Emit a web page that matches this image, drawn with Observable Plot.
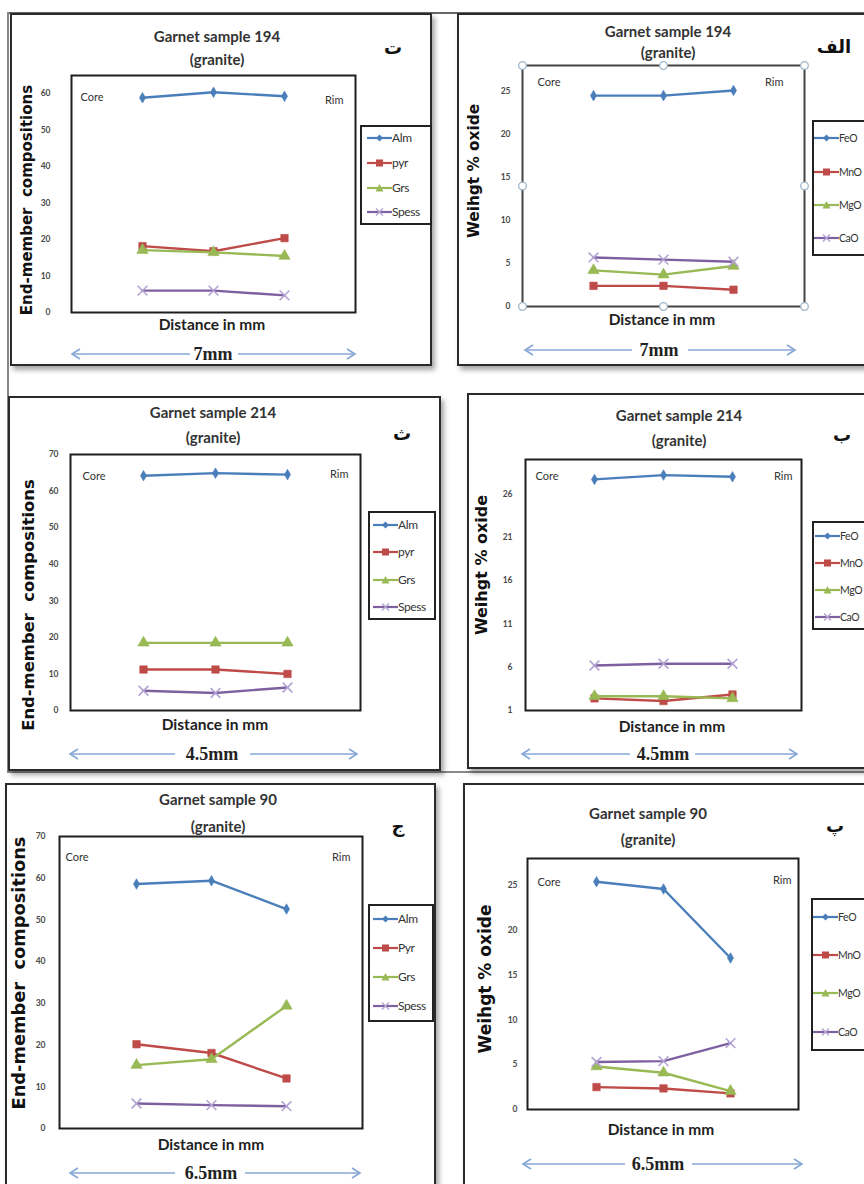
<!DOCTYPE html>
<html><head><meta charset="utf-8">
<script src="https://cdn.jsdelivr.net/npm/d3@7"></script>
<script src="https://cdn.jsdelivr.net/npm/@observablehq/plot@0.6"></script>
<style>
body{margin:0;background:#fff;}
#fig{position:relative;width:864px;height:1184px;overflow:hidden;background:#fff;font-family:Lato,"Open Sans",sans-serif;}
.box{position:absolute;border:2px solid #2b2b2b;box-shadow:3px 4px 5px rgba(0,0,0,0.35);background:#fff;box-sizing:border-box;}
.lg{position:absolute;border:2px solid #222;background:#fff;box-sizing:border-box;}
.t{position:absolute;transform:translate(-50%,-50%);white-space:pre;line-height:1;}
svg.plot{position:absolute;overflow:visible;}
</style></head><body><div id="fig"></div>
<script>
// ---------- data ----------
const points = [1, 2, 3];
const compNames194 = ["Alm", "pyr", "Grs", "Spess"];
const compNames214 = ["Alm", "pyr", "Grs", "Spess"];
const compNames90 = ["Alm", "Pyr", "Grs", "Spess"];
const oxideNames = ["FeO", "MnO", "MgO", "CaO"];

// sample 194
const s194_Alm = [58.9, 60.4, 59.3];
const s194_Pyr = [18.2, 16.8, 20.4];
const s194_Grs = [17.1, 16.5, 15.5];
const s194_Spess = [6.0, 6.0, 4.7];
const s194_FeO = [24.5, 24.5, 25.1];
const s194_MnO = [2.4, 2.4, 1.95];
const s194_MgO = [4.2, 3.7, 4.7];
const s194_CaO = [5.7, 5.45, 5.2];
// sample 214
const s214_Alm = [64.2, 64.9, 64.5];
const s214_Pyr = [11.2, 11.2, 10.0];
const s214_Grs = [18.5, 18.5, 18.5];
const s214_Spess = [5.4, 4.8, 6.3];
const s214_FeO = [27.7, 28.2, 28.0];
const s214_MnO = [2.4, 2.1, 2.85];
const s214_MgO = [2.65, 2.65, 2.4];
const s214_CaO = [6.2, 6.4, 6.4];
// sample 90
const s90_Alm = [58.6, 59.4, 52.6];
const s90_Pyr = [20.2, 18.1, 12.0];
const s90_Grs = [15.2, 16.6, 29.4];
const s90_Spess = [6.0, 5.6, 5.35];
const s90_FeO = [25.4, 24.6, 16.9];
const s90_MnO = [2.5, 2.35, 1.8];
const s90_MgO = [4.8, 4.1, 2.05];
const s90_CaO = [5.3, 5.4, 7.4];

// axes
const yDomainComp194 = [0, 65];
const yTicksComp194 = [0, 10, 20, 30, 40, 50, 60];
const yDomainComp = [0, 70];
const yTicksComp = [0, 10, 20, 30, 40, 50, 60, 70];
const yDomainOx = [0, 28];
const yTicksOx = [0, 5, 10, 15, 20, 25];
const yDomainOx214 = [1, 30];
const yTicksOx214 = [1, 6, 11, 16, 21, 26];

const titles = ["Garnet sample 194", "Garnet sample 194", "Garnet sample 214", "Garnet sample 214", "Garnet sample 90", "Garnet sample 90"];
const subtitle = "(granite)";
const panelLetters = ["ت", "الف", "ث", "ب", "ج", "پ"];
const compLabel = "End-member  compositions";
const oxideLabel = "Weihgt % oxide";
const xLabel = "Distance in mm";
const lengths = ["7mm", "7mm", "4.5mm", "4.5mm", "6.5mm", "6.5mm"];

// ---------- styles ----------
const seriesColors = ["#4a7ebb", "#be4b48", "#98b954", "#7d60a0"];
const markerColors = ["#4a7ebb", "#be4b48", "#98b954", "#b3a3d3"];
const markerSymbols = ["diamond", "square", "triangle", "times"];
const markerR = [3.2, 4.2, 4.2, 4.5];

// ---------- layout ----------
const panels = [
  {names: compNames194, series: [s194_Alm, s194_Pyr, s194_Grs, s194_Spess], yDomain: yDomainComp194, ticks: yTicksComp194, ylabel: compLabel,
   box: [10, 13, 422, 353], frame: [71, 75, 284, 237], tickPad: 21, core: [9, 18], rim: [-12, 21],
   title: [217, 36, 59], letter: [393, 48], ylab: [27, 200, 15], xlab: [212, 325],
   legend: {box: [360, 125, 72, 100], rows: [138, 163, 188, 212], lx: 367, fs: 12},
   arrow: [72, 355, 354, 190, 238, 213]},
  {names: oxideNames, series: [s194_FeO, s194_MnO, s194_MgO, s194_CaO], yDomain: yDomainOx, ticks: yTicksOx, ylabel: oxideLabel,
   box: [457, 13, 420, 353], frame: [522, 65, 282, 241], tickPad: 12, core: [15, 13], rim: [-21, 13], handles: true,
   title: [668, 31, 52], letter: [834, 47], ylab: [475, 171, 15.3], xlab: [662, 320],
   legend: {box: [812, 120, 80, 136], rows: [138, 172, 205, 238], lx: 814, fs: 10.5},
   arrow: [525, 795, 350, 632, 688, 659]},
  {names: compNames214, series: [s214_Alm, s214_Pyr, s214_Grs, s214_Spess], yDomain: yDomainComp, ticks: yTicksComp, ylabel: compLabel,
   box: [8, 396, 433, 375], frame: [70, 454, 290, 256], tickPad: 12, core: [12, 18], rim: [-12, 16],
   title: [213, 412, 437], letter: [402, 434], ylab: [29, 605, 16.4], xlab: [215, 725],
   legend: {box: [368, 511, 68, 109], rows: [525, 552, 580, 607], lx: 373, fs: 12},
   arrow: [70, 357, 754, 175, 250, 212]},
  {names: oxideNames, series: [s214_FeO, s214_MnO, s214_MgO, s214_CaO], yDomain: yDomainOx214, ticks: yTicksOx214, ylabel: oxideLabel,
   box: [467, 393, 410, 376], frame: [525, 459, 276, 251], tickPad: 13, core: [10, 13], rim: [-9, 13],
   title: [679, 415, 440], letter: [842, 435], ylab: [482, 565, 16], xlab: [672, 727],
   legend: {box: [812, 521, 80, 109], rows: [536, 563, 590, 617], lx: 815, fs: 10.5},
   arrow: [522, 797, 754, 630, 695, 663]},
  {names: compNames90, series: [s90_Alm, s90_Pyr, s90_Grs, s90_Spess], yDomain: yDomainComp, ticks: yTicksComp, ylabel: compLabel,
   box: [5, 783, 431, 420], frame: [59, 836, 303, 292], tickPad: 14, core: [6, 17], rim: [-12, 17],
   title: [218, 799, 826], letter: [398, 826], ylab: [19, 973, 17.8], xlab: [211, 1145],
   legend: {box: [368, 904, 66, 118], rows: [919, 948, 977, 1006], lx: 373, fs: 12},
   arrow: [70, 360, 1173, 175, 245, 211]},
  {names: oxideNames, series: [s90_FeO, s90_MnO, s90_MgO, s90_CaO], yDomain: yDomainOx, ticks: yTicksOx, ylabel: oxideLabel,
   box: [463, 783, 420, 420], frame: [527, 858, 271, 251], tickPad: 10, core: [10, 20], rim: [-7, 18],
   title: [648, 813, 839], letter: [835, 826], ylab: [485, 979, 17], xlab: [661, 1130],
   legend: {box: [811, 898, 80, 153], rows: [917, 955, 993, 1032], lx: 813, fs: 10.5},
   arrow: [523, 802, 1164, 625, 692, 658]}
];

const fig = document.getElementById("fig");
const NS = "http://www.w3.org/2000/svg";

function addText(x, y, text, css, rotate) {
  const d = document.createElement("div");
  d.className = "t";
  d.textContent = text;
  d.style.left = x + "px";
  d.style.top = y + "px";
  Object.assign(d.style, css);
  if (rotate) d.style.transform = `translate(-50%,-50%) rotate(${rotate}deg)`;
  fig.appendChild(d);
  return d;
}

function glyph(i, color, mcolor) {
  const s = document.createElementNS(NS, "svg");
  s.setAttribute("width", 25); s.setAttribute("height", 12);
  s.style.position = "absolute";
  let h = `<line x1="0" y1="6" x2="25" y2="6" stroke="${color}" stroke-width="2.2"/>`;
  if (i === 0) h += `<polygon points="12.5,2.5 16,6 12.5,9.5 9,6" fill="${mcolor}"/>`;
  if (i === 1) h += `<rect x="9" y="2.5" width="7" height="7" fill="${mcolor}"/>`;
  if (i === 2) h += `<polygon points="12.5,2 16.5,9.5 8.5,9.5" fill="${mcolor}"/>`;
  if (i === 3) h += `<path d="M9,2.5L16,9.5M16,2.5L9,9.5" stroke="${mcolor}" stroke-width="1.4"/>`;
  s.innerHTML = h;
  return s;
}

// decorative overlay for the length arrows
const deco = document.createElementNS(NS, "svg");
deco.setAttribute("width", 864); deco.setAttribute("height", 1184);
deco.style.position = "absolute"; deco.style.left = "0"; deco.style.top = "0";

// outer rules
fig.insertAdjacentHTML("beforeend", `<div style="position:absolute;left:8px;top:12px;width:860px;height:2px;background:#666"></div>
<div style="position:absolute;left:7px;top:12px;width:2px;height:760px;background:#888"></div>
<div style="position:absolute;left:7px;top:771px;width:860px;height:2px;background:#888"></div>`);

panels.forEach((p) => {
  const [bx, by, bw, bh] = p.box;
  const b = document.createElement("div");
  b.className = "box";
  Object.assign(b.style, {left: bx + "px", top: by + "px", width: bw + "px", height: bh + "px"});
  fig.appendChild(b);
});

panels.forEach((p, k) => {
  const [fl, ft, fw, fh] = p.frame;
  const ML = 45, MR = 6, MT = 6, MB = 6;
  const marks = [
    Plot.frame({stroke: p.handles ? "#444" : "#1e1e1e", strokeWidth: 2}),
    Plot.axisY({ticks: p.ticks, tickSize: 0, tickPadding: p.tickPad, fontSize: 8.5, fontWeight: "bold", label: null})
  ];
  p.series.forEach((vals, i) => {
    const d = points.map((x, j) => ({pos: x, value: vals[j]}));
    marks.push(Plot.line(d, {x: "pos", y: "value", stroke: seriesColors[i], strokeWidth: 2.4}));
    const sym = markerSymbols[i];
    marks.push(Plot.dot(d, {x: "pos", y: "value", symbol: sym, r: markerR[i],
      fill: sym === "times" ? "none" : markerColors[i], stroke: markerColors[i], strokeWidth: sym === "times" ? 1.6 : 0.6}));
  });
  marks.push(Plot.text(["Core"], {text: (d) => d, frameAnchor: "top-left", textAnchor: "start", dx: p.core[0], dy: p.core[1], fontSize: 11, fill: "#333"}));
  marks.push(Plot.text(["Rim"], {text: (d) => d, frameAnchor: "top-right", textAnchor: "end", dx: p.rim[0], dy: p.rim[1], fontSize: 11, fill: "#333"}));
  if (p.handles) {
    ["top-left", "top", "top-right", "left", "right", "bottom-left", "bottom", "bottom-right"].forEach((a) =>
      marks.push(Plot.dot([0], {frameAnchor: a, r: 3.8, fill: "white", stroke: "#9fb6c9", strokeWidth: 1.3})));
  }
  const svg = Plot.plot({
    width: fw + ML + MR, height: fh + MT + MB,
    marginLeft: ML, marginRight: MR, marginTop: MT, marginBottom: MB,
    x: {type: "point", domain: points, padding: 1, axis: null},
    y: {domain: p.yDomain},
    style: {fontFamily: "Lato, sans-serif", color: "#4a4a4a", background: "transparent", overflow: "visible"},
    marks
  });
  svg.classList.add("plot");
  svg.style.left = (fl - ML) + "px";
  svg.style.top = (ft - MT) + "px";
  fig.appendChild(svg);

  // titles and labels
  addText(p.title[0], p.title[1], titles[k], {fontSize: "15px", fontWeight: "bold", color: "#333"});
  addText(p.title[0], p.title[2], subtitle, {fontSize: "15px", fontWeight: "bold", color: "#333"});
  addText(p.letter[0], p.letter[1], panelLetters[k], {fontSize: "18px", fontWeight: "bold", color: "#111", fontFamily: "'DejaVu Sans', sans-serif", direction: "rtl"});
  addText(p.ylab[0], p.ylab[1], p.ylabel, {fontSize: p.ylab[2] + "px", fontWeight: "bold", color: "#111", fontFamily: "'DejaVu Sans', sans-serif"}, -90);
  addText(p.xlab[0], p.xlab[1], xLabel, {fontSize: "15.5px", fontWeight: "bold", color: "#222"});

  // legend
  const L = p.legend;
  const lg = document.createElement("div");
  lg.className = "lg";
  Object.assign(lg.style, {left: L.box[0] + "px", top: L.box[1] + "px", width: L.box[2] + "px", height: L.box[3] + "px"});
  fig.appendChild(lg);
  p.names.forEach((n, i) => {
    const g = glyph(i, seriesColors[i], markerColors[i]);
    g.style.left = L.lx + "px"; g.style.top = (L.rows[i] - 6) + "px";
    fig.appendChild(g);
    const t = document.createElement("div");
    t.textContent = n;
    Object.assign(t.style, {position: "absolute", left: (L.lx + 25) + "px", top: (L.rows[i] - 7) + "px", fontSize: L.fs + "px", color: "#333", lineHeight: "14px", letterSpacing: "-0.4px", whiteSpace: "nowrap"});
    fig.appendChild(t);
  });

  // length arrow
  const [x1, x2, y, g1, g2, cx] = p.arrow;
  const c = "#86a7d6";
  deco.insertAdjacentHTML("beforeend",
    `<line x1="${x1}" y1="${y}" x2="${g1}" y2="${y}" stroke="${c}" stroke-width="1.6"/>` +
    `<line x1="${g2}" y1="${y}" x2="${x2}" y2="${y}" stroke="${c}" stroke-width="1.6"/>` +
    `<path d="M${x1 + 8},${y - 5}L${x1},${y}L${x1 + 8},${y + 5}" fill="none" stroke="${c}" stroke-width="1.6"/>` +
    `<path d="M${x2 - 8},${y - 5}L${x2},${y}L${x2 - 8},${y + 5}" fill="none" stroke="${c}" stroke-width="1.6"/>`);
  addText(cx, y, lengths[k], {fontSize: "18px", fontWeight: "bold", color: "#222", fontFamily: "'Liberation Serif', 'DejaVu Serif', serif"});
});
fig.appendChild(deco);
</script></body></html>
